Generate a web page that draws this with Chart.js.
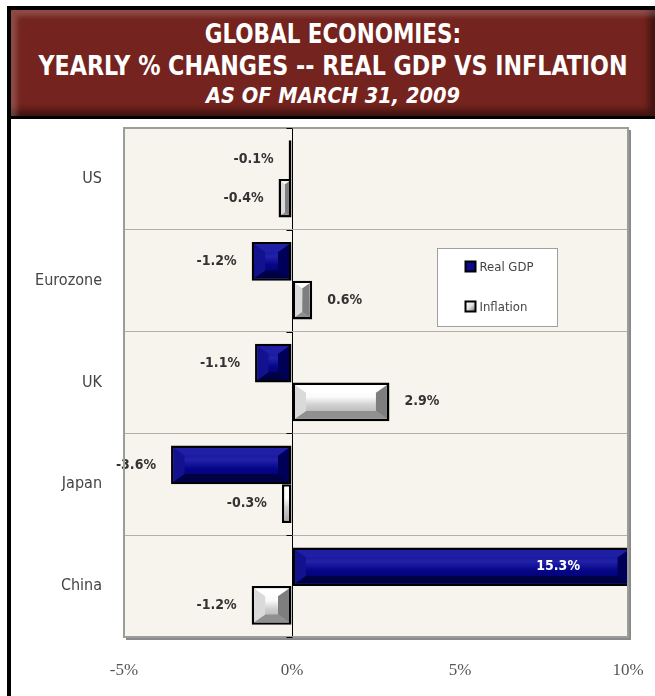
<!DOCTYPE html>
<html>
<head>
<meta charset="utf-8">
<script src="https://cdn.jsdelivr.net/npm/chart.js@4.4.0/dist/chart.umd.min.js"></script>
<style>
  html, body { margin:0; padding:0; background:#fff; }
  #wrap { position:relative; width:655px; height:696px; overflow:hidden; }
  #c { position:absolute; left:0; top:0; }
  .blk { position:absolute; background:#000; }
  #banner { position:absolute; left:11px; top:10px; width:644px; height:106px;
    background:#74231e;
    box-shadow: inset 9px 9px 5px -3px rgba(255,255,255,0.18), inset -9px -9px 6px -3px rgba(0,0,0,0.45);
    color:#fff; font-family:"DejaVu Sans Condensed","Liberation Sans",sans-serif; font-weight:bold; }
  .tl { position:absolute; left:0; width:100%; text-align:center; white-space:nowrap; line-height:1; transform-origin:50% 50%; }
</style>
</head>
<body>
<div id="wrap">
  <canvas id="c" width="655" height="696"></canvas>
  <div class="blk" style="left:7px;top:6px;width:648px;height:4px;"></div>
  <div class="blk" style="left:7px;top:6px;width:4px;height:690px;"></div>
  <div class="blk" style="left:7px;top:116px;width:648px;height:3px;"></div>
  <div id="banner">
    <div class="tl" style="top:11px;font-size:26px;transform:scaleX(0.92);">GLOBAL ECONOMIES:</div>
    <div class="tl" style="top:43px;font-size:26px;transform:scaleX(0.95);">YEARLY % CHANGES -- REAL GDP VS INFLATION</div>
    <div class="tl" style="top:75px;font-size:22px;font-style:italic;transform:scaleX(0.98);">AS OF MARCH 31, 2009</div>
  </div>
</div>
<script>
const categories = ['US', 'Eurozone', 'UK', 'Japan', 'China'];
const realGdp = [-0.1, -1.2, -1.1, -3.6, 15.3];
const inflation = [-0.4, 0.6, 2.9, -0.3, -1.2];
const seriesNames = ['Real GDP', 'Inflation'];
const xMin = -5, xMax = 10, xStep = 5;

const NARROW = '"DejaVu Sans Condensed","Liberation Sans",sans-serif';

const styles = [
  { face: ['#0c0c86', '#2222aa', '#06068a', '#000062'], top: '#1e1ea6', left: '#12128e', bottom: '#000044', right: '#000058', base: '#06067e' },
  { face: ['#ffffff', '#fbfbfb', '#cfcfcf', '#ababab'], top: '#ffffff', left: '#dadada', bottom: '#909090', right: '#7e7e7e', base: '#d8d8d8' }
];

function drawBevel(ctx, l, t, r, b, st) {
  const w = r - l, h = b - t;
  if (w <= 0 || h <= 0) return;
  const bv = Math.min(11, w / 2, h / 2);
  const g = ctx.createLinearGradient(0, t, 0, b);
  g.addColorStop(0, st.face[0]); g.addColorStop(0.35, st.face[1]);
  g.addColorStop(0.6, st.face[2]); g.addColorStop(1, st.face[3]);
  ctx.fillStyle = g; ctx.fillRect(l, t, w, h);
  if (w < 6) return;
  const poly = (pts, col) => { ctx.beginPath(); ctx.moveTo(pts[0][0], pts[0][1]); for (let i = 1; i < pts.length; i++) ctx.lineTo(pts[i][0], pts[i][1]); ctx.closePath(); ctx.fillStyle = col; ctx.fill(); };
  const bh = Math.min(bv * 0.7, h / 2);
  poly([[l, t], [r, t], [r - bv, t + bh], [l + bv, t + bh]], st.top);
  poly([[l, b], [r, b], [r - bv, b - bh], [l + bv, b - bh]], st.bottom);
  poly([[l, t], [l + bv, t + bh], [l + bv, b - bh], [l, b]], st.left);
  poly([[r, t], [r - bv, t + bh], [r - bv, b - bh], [r, b]], st.right);
}

const framePlugin = {
  id: 'frame',
  beforeDraw(chart) {
    const { ctx, chartArea: a } = chart;
    ctx.save();
    ctx.fillStyle = '#f7f4ed';
    ctx.fillRect(a.left, a.top, a.right - a.left, a.bottom - a.top);
    ctx.restore();
  },
  afterDraw(chart) {
    const { ctx, chartArea: a } = chart;
    ctx.save();
    ctx.strokeStyle = '#9c9c9c'; ctx.lineWidth = 2;
    ctx.strokeRect(a.left, a.top, a.right - a.left, a.bottom - a.top);
    ctx.strokeStyle = '#8a8a8a'; ctx.lineWidth = 2;
    ctx.beginPath(); ctx.moveTo(a.right + 2, a.top + 2); ctx.lineTo(a.right + 2, a.bottom + 2); ctx.lineTo(a.left + 2, a.bottom + 2); ctx.stroke();
    const xs = chart.scales.x, ys = chart.scales.y;
    const zx = Math.round(xs.getPixelForValue(0)) + 0.5;
    ctx.strokeStyle = '#000'; ctx.lineWidth = 1;
    const n = categories.length;
    for (let i = 0; i <= n; i++) {
      const y = ys.top + (ys.bottom - ys.top) * i / n;
      ctx.beginPath(); ctx.moveTo(zx - 6, Math.round(y) + 0.5); ctx.lineTo(zx, Math.round(y) + 0.5); ctx.stroke();
    }
    ctx.restore();
  }
};

const bevelPlugin = {
  id: 'bevel',
  afterDatasetsDraw(chart) {
    const { ctx, chartArea: a } = chart;
    ctx.save();
    ctx.beginPath(); ctx.rect(a.left, a.top, a.right - a.left + 3, a.bottom - a.top); ctx.clip();
    chart.data.datasets.forEach((ds, di) => {
      const meta = chart.getDatasetMeta(di);
      meta.data.forEach((el) => {
        const p = el.getProps(['x', 'y', 'base', 'height'], true);
        const l = Math.min(p.x, p.base), r = Math.max(p.x, p.base);
        const t = p.y - p.height / 2, b = p.y + p.height / 2;
        const bw = 2.5;
        drawBevel(ctx, l + bw, t + bw, Math.min(r, a.right + 3) - bw, b - bw, styles[di]);
      });
    });
    ctx.restore();
  }
};

const labelPlugin = {
  id: 'vlabels',
  afterDatasetsDraw(chart) {
    const { ctx, chartArea: a } = chart;
    ctx.save();
    ctx.textBaseline = 'middle';
    chart.data.datasets.forEach((ds, di) => {
      const meta = chart.getDatasetMeta(di);
      meta.data.forEach((el, i) => {
        const v = ds.data[i];
        const p = el.getProps(['x', 'y', 'base'], true);
        const txt = v.toFixed(1) + '%';
        ctx.font = 'bold 14px ' + NARROW;
        if (v > xMax) {
          ctx.fillStyle = '#ffffff'; ctx.textAlign = 'right';
          ctx.fillText(txt, a.right - 48, p.y);
        } else if (v < 0) {
          ctx.fillStyle = '#333333'; ctx.textAlign = 'right';
          ctx.fillText(txt, p.x - 15, p.y);
        } else {
          ctx.fillStyle = '#333333'; ctx.textAlign = 'left';
          ctx.fillText(txt, p.x + 15, p.y);
        }
      });
    });
    ctx.restore();
  }
};

const legendPlugin = {
  id: 'boxLegend',
  afterDraw(chart) {
    const { ctx } = chart;
    const L = 437.5, T = 248.5, W = 120, H = 78;
    ctx.save();
    ctx.fillStyle = '#ffffff'; ctx.fillRect(L, T, W, H);
    ctx.strokeStyle = '#a0a0a0'; ctx.lineWidth = 1; ctx.strokeRect(L, T, W, H);
    ctx.font = '13px ' + NARROW; ctx.textBaseline = 'middle'; ctx.textAlign = 'left';
    chart.data.datasets.forEach((ds, di) => {
      const cy = T + 18 + di * 40;
      const ix = L + 27;
      ctx.fillStyle = '#000'; ctx.fillRect(ix, cy - 6, 12, 12);
      if (di === 0) {
        ctx.fillStyle = '#0a0a8a'; ctx.fillRect(ix + 2, cy - 4, 8, 8);
      } else {
        const g = ctx.createLinearGradient(ix + 2, cy - 4, ix + 10, cy + 4);
        g.addColorStop(0, '#ffffff'); g.addColorStop(0.5, '#e0e0e0'); g.addColorStop(1, '#808080');
        ctx.fillStyle = g; ctx.fillRect(ix + 2, cy - 4, 8, 8);
      }
      ctx.fillStyle = '#444';
      ctx.fillText(ds.label, ix + 15, cy + 1);
    });
    ctx.restore();
  }
};

new Chart(document.getElementById('c'), {
  type: 'bar',
  data: {
    labels: categories,
    datasets: [
      { label: seriesNames[0], data: realGdp, backgroundColor: styles[0].base, borderColor: '#000', borderWidth: 2.5, borderSkipped: false },
      { label: seriesNames[1], data: inflation, backgroundColor: styles[1].base, borderColor: '#000', borderWidth: 2.5, borderSkipped: false }
    ]
  },
  options: {
    indexAxis: 'y',
    responsive: false,
    animation: false,
    devicePixelRatio: 1,
    layout: { padding: { top: 128, right: 27, left: 0, bottom: 0 } },
    datasets: { bar: { categoryPercentage: 0.76, barPercentage: 1.0 } },
    plugins: { legend: { display: false }, tooltip: { enabled: false }, title: { display: false } },
    scales: {
      x: {
        min: xMin, max: xMax,
        border: { display: false },
        grid: { drawTicks: false, color: (c) => (c.tick && c.tick.value === 0 ? '#000' : 'rgba(0,0,0,0)'), lineWidth: 1 },
        ticks: { stepSize: xStep, padding: 23, color: '#555', font: { family: '"Liberation Serif","DejaVu Serif",serif', size: 17 }, callback: (v) => v + '%' },
        afterFit: (s) => { s.height = 59; s.paddingLeft = 0; s.paddingRight = 0; }
      },
      y: {
        border: { display: false },
        grid: { drawTicks: false, color: '#b4b0a8', lineWidth: 1, offset: true },
        ticks: { padding: 22, color: '#444', font: { family: NARROW, size: 16 } },
        afterFit: (s) => { s.width = 124; }
      }
    }
  },
  plugins: [framePlugin, bevelPlugin, labelPlugin, legendPlugin]
});
</script>
</body>
</html>
